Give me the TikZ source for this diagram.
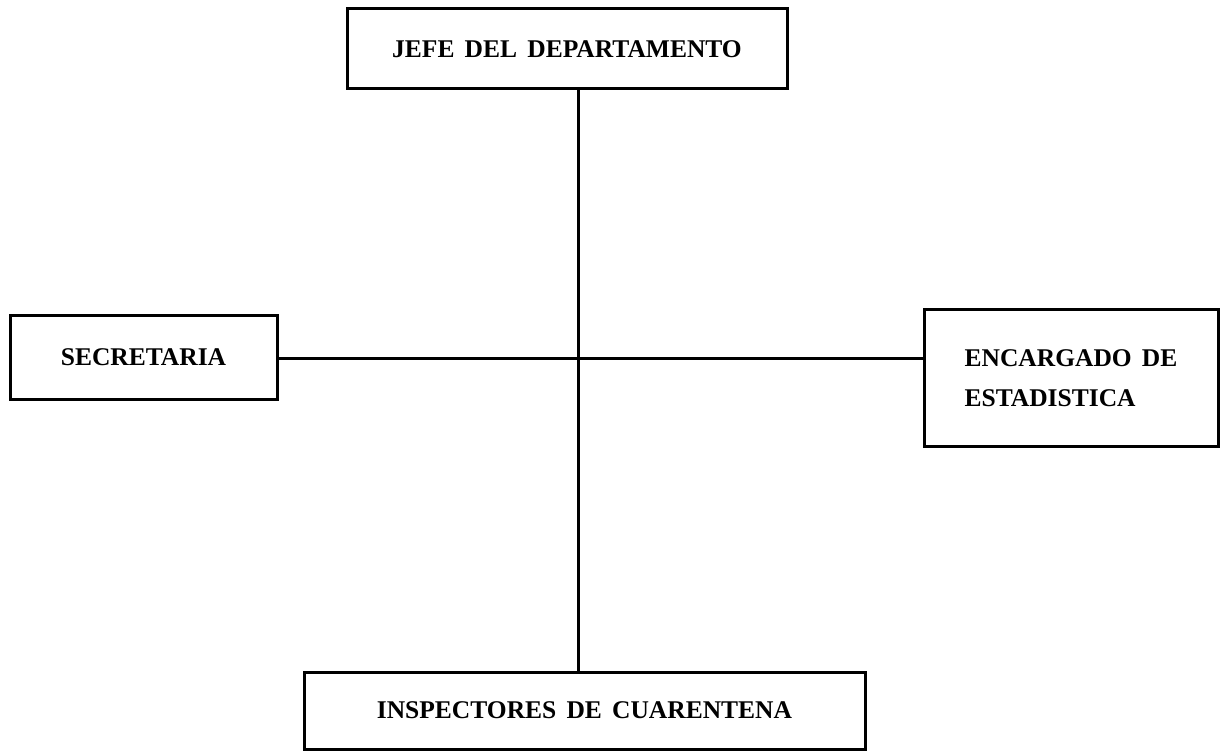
\documentclass[tikz,border=0pt]{standalone}
\usepackage{fontspec}
\setmainfont[WordSpace=1.6]{Liberation Serif}
\begin{document}
\begin{tikzpicture}[x=1pt,y=-1pt,
  orgbox/.style={draw=black,line width=3pt,rectangle,inner sep=0pt,
    font=\fontsize{25.5}{40}\selectfont\bfseries},
  link/.style={draw=black,line width=3pt}]
\useasboundingbox (0,0) rectangle (1221,751);
\node[orgbox,minimum width=440pt,minimum height=80pt] (jefe) at (567,49) {JEFE DEL DEPARTAMENTO};
\node[orgbox,minimum width=267pt,minimum height=83pt] (sec) at (143.5,357.5) {SECRETARIA};
\node[orgbox,minimum width=294pt,minimum height=136pt,align=left] (est) at (1071,378) {ENCARGADO DE\\ESTADISTICA};
\node[orgbox,minimum width=561pt,minimum height=77pt] (insp) at (584.5,710.5) {INSPECTORES DE CUARENTENA};
\coordinate (cross) at (578,358);
\draw[link] (cross |- jefe.south) -- (cross |- insp.north);
\draw[link] (sec.east |- cross) -- (est.west |- cross);
\end{tikzpicture}
\end{document}
